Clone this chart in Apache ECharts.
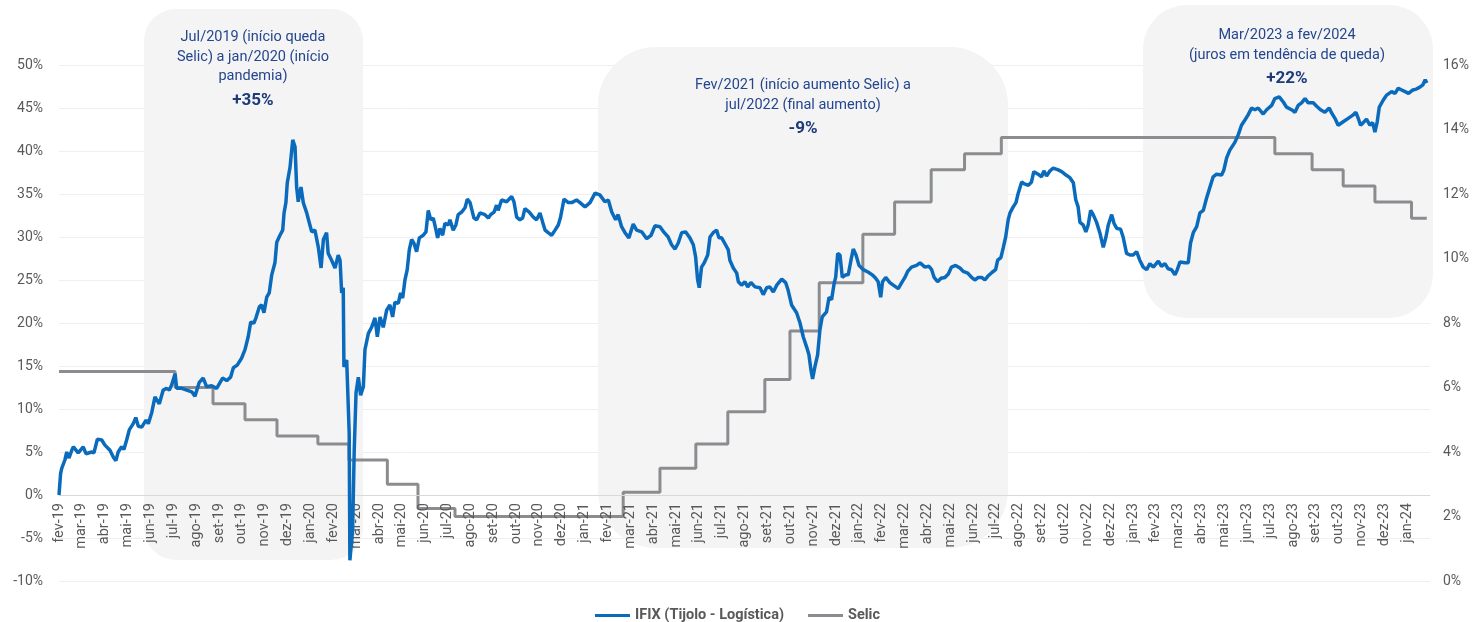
<!DOCTYPE html>
<html>
<head>
<meta charset="utf-8">
<title>IFIX Tijolo Logística x Selic</title>
<script src="https://cdn.jsdelivr.net/npm/echarts@6/dist/echarts.min.js"></script>
<style>
  html, body { margin: 0; padding: 0; background: #fff; }
  #chart { width: 1475px; height: 622px; }
</style>
</head>
<body>
<div id="chart"></div>
<script>
// rótulos do eixo x (um por mês, fev-19 = 0)
const monthLabels = [
  'fev-19','mar-19','abr-19','mai-19','jun-19','jul-19','ago-19','set-19','out-19','nov-19','dez-19',
  'jan-20','fev-20','mar-20','abr-20','mai-20','jun-20','jul-20','ago-20','set-20','out-20','nov-20','dez-20',
  'jan-21','fev-21','mar-21','abr-21','mai-21','jun-21','jul-21','ago-21','set-21','out-21','nov-21','dez-21',
  'jan-22','fev-22','mar-22','abr-22','mai-22','jun-22','jul-22','ago-22','set-22','out-22','nov-22','dez-22',
  'jan-23','fev-23','mar-23','abr-23','mai-23','jun-23','jul-23','ago-23','set-23','out-23','nov-23','dez-23',
  'jan-24'
];

// IFIX (Tijolo - Logística): posição em meses desde fev-19 e retorno acumulado (%)
const ifixMonth = [
  0,0.07,0.12,0.26,0.34,0.44,0.56,0.63,0.84,1.06,1.18,1.43,1.53,1.68,1.87,2.01,2.23,2.38,2.49,2.59,
  2.74,2.84,2.96,3.08,3.25,3.36,3.47,3.62,3.81,3.91,4.06,4.2,4.39,4.56,4.71,4.83,4.93,5.08,5.15,5.37,
  5.59,5.81,5.95,6.14,6.31,6.46,6.68,6.9,7.16,7.34,7.51,7.63,7.8,7.99,8.14,8.28,8.39,8.53,8.62,8.77,
  8.87,8.97,9.09,9.2,9.31,9.45,9.53,9.67,9.79,9.85,9.93,9.99,10.11,10.23,10.33,10.4,10.47,10.59,10.69,10.84,
  10.98,11.06,11.2,11.35,11.47,11.57,11.71,11.78,11.93,12.08,12.22,12.3,12.37,12.44,12.47,12.59,12.7,12.73,12.85,12.92,
  13.0,13.1,13.2,13.32,13.39,13.54,13.68,13.83,13.93,14.05,14.19,14.34,14.48,14.6,14.7,14.85,14.95,15.04,15.14,15.24,
  15.33,15.43,15.53,15.65,15.77,15.94,16.06,16.16,16.27,16.38,16.5,16.57,16.67,16.79,16.89,17.04,17.11,17.25,17.37,17.47,
  17.62,17.77,17.87,17.99,18.16,18.28,18.42,18.64,18.79,18.89,19.04,19.15,19.22,19.37,19.59,19.81,19.91,20.03,20.17,20.29,
  20.39,20.58,20.76,20.9,21.05,21.17,21.27,21.41,21.56,21.71,21.85,21.95,22.1,22.29,22.44,22.65,22.8,23.02,23.24,23.46,
  23.67,23.89,24.04,24.19,24.36,24.47,24.62,24.77,24.94,25.13,25.28,25.5,25.72,25.91,26.08,26.3,26.49,26.66,26.81,26.96,
  27.1,27.25,27.42,27.61,27.76,27.86,27.95,28.02,28.12,28.24,28.39,28.49,28.63,28.78,28.88,29.0,29.17,29.29,29.36,29.51,
  29.66,29.73,29.87,30.02,30.14,30.28,30.46,30.68,30.82,30.97,31.11,31.26,31.41,31.63,31.8,31.91,32.06,32.28,32.43,32.57,
  32.72,32.82,32.91,32.98,33.08,33.2,33.3,33.4,33.59,33.7,33.81,33.93,33.99,34.08,34.18,34.28,34.43,34.54,34.66,34.76,
  34.88,35.01,35.2,35.42,35.59,35.74,35.85,35.96,36.04,36.18,36.36,36.51,36.73,36.88,37.02,37.14,37.31,37.53,37.68,37.9,
  38.07,38.19,38.3,38.45,38.6,38.77,38.92,39.06,39.24,39.43,39.57,39.77,39.94,40.08,40.23,40.38,40.52,40.67,40.84,40.99,
  41.08,41.22,41.32,41.43,41.54,41.62,41.76,41.88,41.98,42.13,42.23,42.42,42.56,42.66,42.85,43.0,43.1,43.22,43.37,43.51,
  43.73,43.88,44.02,44.24,44.39,44.5,44.6,44.68,44.82,44.94,45.04,45.15,45.26,45.41,45.55,45.7,45.82,45.92,46.07,46.17,
  46.29,46.46,46.57,46.72,46.87,47.01,47.16,47.3,47.45,47.6,47.74,47.89,48.11,48.25,48.4,48.54,48.69,48.84,48.94,49.06,
  49.27,49.42,49.52,49.64,49.79,49.93,50.08,50.22,50.37,50.51,50.66,50.88,50.98,51.1,51.24,51.46,51.61,51.75,51.9,52.04,
  52.19,52.34,52.48,52.7,52.85,53.07,53.21,53.4,53.58,53.72,53.94,54.09,54.23,54.38,54.53,54.67,54.89,55.04,55.21,55.4,
  55.59,55.7,55.84,55.98,56.2,56.42,56.64,56.76,56.86,56.96,57.08,57.22,57.37,57.49,57.59,57.69,57.78,57.95,58.1,58.32,
  58.47,58.61,58.76,58.91,59.06,59.25,59.4,59.54,59.69,59.79,59.86
];
const ifixPct = [
  0,2.5,3.1,4.1,5.0,4.3,5.2,5.6,4.9,5.6,4.8,5.0,4.9,6.5,6.4,5.8,5.2,4.4,4.0,5.0,
  5.6,5.3,6.4,7.6,8.3,9.0,8.0,7.9,8.7,8.3,9.6,11.4,10.6,12.2,12.4,12.2,12.8,14.1,12.4,12.4,
  12.2,12.0,11.5,13.1,13.6,12.6,12.7,12.4,13.6,13.3,13.7,14.8,15.1,15.9,16.9,18.4,20.1,20.0,20.6,21.9,
  22.1,21.2,23.0,23.5,25.6,27.0,29.4,30.2,30.8,32.8,34.0,36.3,38.1,41.3,40.5,35.8,34.1,35.8,34.0,32.8,
  31.4,30.6,30.8,28.8,26.4,29.7,30.5,28.1,27.3,26.4,27.9,27.3,23.5,24.1,14.9,15.7,7.2,-7.6,-4.1,5.2,
  11.9,13.7,11.6,12.6,16.9,18.8,19.5,20.6,18.4,20.7,19.5,21.5,22.1,20.7,22.4,22.3,23.5,22.9,25.0,26.2,
  28.5,29.7,29.3,28.3,29.9,30.2,30.6,33.1,32.0,32.2,30.8,29.9,31.0,30.2,31.6,31.4,32.0,30.8,31.4,32.6,
  32.9,33.4,34.4,34.0,32.2,32.0,32.8,32.6,32.2,32.6,32.9,33.7,33.1,34.3,34.1,34.7,34.1,32.3,32.0,32.2,
  33.3,32.9,32.3,32.0,32.8,31.7,30.8,30.5,30.2,30.8,31.4,32.3,34.4,34.0,34.0,34.3,34.0,33.5,34.0,35.1,
  34.9,34.1,34.3,32.9,32.0,32.6,31.2,30.5,29.9,31.5,30.8,30.6,29.8,30.2,31.3,31.2,30.5,30.0,29.1,28.6,
  29.3,30.5,30.6,29.9,29.1,27.7,25.0,24.1,26.5,27.0,27.9,30.0,30.5,30.8,29.9,29.9,29.1,28.5,27.3,26.4,
  25.8,24.8,24.4,24.8,24.2,24.7,24.2,24.1,23.3,24.1,24.2,23.6,24.4,25.1,24.7,23.8,22.1,21.2,20.0,18.4,
  17.2,16.3,14.5,13.5,14.9,16.3,19.2,20.7,21.3,23.0,22.7,24.7,25.3,28.1,27.9,25.3,25.6,25.6,27.3,28.6,
  27.9,26.7,26.2,25.9,25.6,25.2,24.8,23.0,24.8,25.3,24.7,24.4,24.0,24.7,25.3,26.0,26.5,26.7,27.0,26.5,
  26.6,26.2,25.3,24.8,25.2,25.3,25.7,26.5,26.7,26.4,26.0,25.8,25.3,25.0,25.3,25.3,25.0,25.5,25.9,26.2,
  27.3,27.6,28.7,30.0,32.0,32.8,33.5,34.0,35.1,36.4,36.2,36.0,36.4,37.6,37.3,37.0,37.7,37.1,37.7,38.0,
  37.8,37.6,37.3,36.9,36.3,34.3,33.5,31.7,31.4,30.6,31.4,33.1,32.6,31.7,30.5,28.8,30.0,31.4,32.6,31.6,
  31.0,30.9,30.0,28.1,27.9,27.9,28.3,27.3,26.5,26.2,26.9,26.5,27.2,26.6,26.9,26.3,26.2,25.6,26.2,27.1,
  27.0,27.0,29.3,30.5,31.2,32.8,33.1,34.5,35.8,37.0,37.3,37.2,37.8,39.2,40.1,41.0,41.9,43.0,43.6,44.2,
  45.0,44.8,45.0,44.3,44.8,45.3,46.1,46.3,45.7,45.1,44.8,44.5,45.3,45.6,46.1,45.6,45.6,45.2,44.8,44.5,
  45.0,44.4,43.8,43.0,43.4,43.8,44.2,44.5,43.8,43.0,43.3,43.7,43.0,43.3,42.2,43.4,45.1,45.9,46.5,46.9,
  46.7,47.3,47.1,46.9,46.7,47.1,47.2,47.4,47.7,48.3,47.9
];

// Selic: mês da mudança e nova taxa (% a.a.)
const selicMonth = [0,5.08,6.74,8.14,9.54,11.33,12.69,14.37,15.71,17.33,24.69,26.3,27.87,29.27,30.89,31.99,
  33.27,35.18,36.57,38.17,39.63,41.24,53.21,54.84,56.2,57.59,59.19,59.86];
const selicRate = [6.5,6.0,5.5,5.0,4.5,4.25,3.75,3.0,2.25,2.0,2.75,3.5,4.25,5.25,6.25,7.75,
  9.25,10.75,11.75,12.75,13.25,13.75,13.25,12.75,12.25,11.75,11.25,11.25];

const ifixData = ifixMonth.map((m, i) => [m, ifixPct[i]]);
const selicData = selicMonth.map((m, i) => [m, selicRate[i]]);

const noteColor = '#24468f';
const boxFill = '#f4f4f4';

function note(x, y, lines, pct) {
  return [
    { type: 'text', z: 1, style: { text: lines, x: x, y: y, align: 'center', verticalAlign: 'top',
      fill: noteColor, fontSize: 14.5, lineHeight: 19.5, fontFamily: 'Roboto' } },
    { type: 'text', z: 1, style: { text: pct, x: x, y: y + lines.split('\n').length * 19.5 + 14, align: 'center', verticalAlign: 'middle',
      fill: '#1d3a7a', fontSize: 17, fontWeight: 'bold', fontFamily: 'Roboto' } }
  ];
}

const myChart = echarts.init(document.getElementById('chart'));
myChart.setOption({
  animation: false,
  textStyle: { fontFamily: 'Roboto' },
  grid: { left: 59, right: 45, top: 65, bottom: 41, outerBoundsMode: 'none' },
  graphic: [
    { type: 'rect', z: 1, shape: { x: 144, y: 9, width: 219, height: 551, r: 32 }, style: { fill: boxFill } },
    { type: 'rect', z: 1, shape: { x: 598, y: 47, width: 410, height: 501, r: 58 }, style: { fill: boxFill } },
    { type: 'rect', z: 1, shape: { x: 1143, y: 5, width: 290, height: 313, r: 44 }, style: { fill: boxFill } },
    ...note(253, 28, 'Jul/2019 (início queda\nSelic) a jan/2020 (início\npandemia)', '+35%'),
    ...note(803, 76, 'Fev/2021 (início aumento Selic) a\njul/2022 (final aumento)', '-9%'),
    ...note(1287, 26, 'Mar/2023 a fev/2024\n(juros em tendência de queda)', '+22%')
  ],
  legend: {
    top: 603,
    left: 'center',
    icon: 'rect',
    itemWidth: 35,
    itemHeight: 3,
    itemGap: 24,
    textStyle: { color: '#595959', fontSize: 14.5, fontWeight: 'bold', fontFamily: 'Roboto' },
    data: ['IFIX (Tijolo - Logística)', 'Selic']
  },
  xAxis: {
    type: 'value',
    min: 0,
    max: 60,
    interval: 1,
    z: 3,
    position: 'bottom',
    offset: -86, // eixo no 0% do eixo esquerdo
    axisLine: { onZero: false, lineStyle: { color: '#d9d9d9', width: 1 } },
    axisTick: { show: false },
    splitLine: { show: false },
    axisLabel: {
      rotate: 90,
      margin: 8,
      color: '#595959',
      fontSize: 14.5,
      formatter: v => monthLabels[v] || ''
    }
  },
  yAxis: [
    {
      type: 'value',
      min: -10,
      max: 50,
      interval: 5,
      z: 0,
      axisLine: { show: false },
      axisTick: { show: false },
      splitLine: { lineStyle: { color: '#efefef' } },
      axisLabel: { color: '#595959', fontSize: 14, margin: 16, formatter: '{value}%' }
    },
    {
      type: 'value',
      min: 0,
      max: 16,
      interval: 2,
      position: 'right',
      axisLine: { show: false },
      axisTick: { show: false },
      splitLine: { show: false },
      axisLabel: { color: '#595959', fontSize: 14, margin: 13, formatter: '{value}%' }
    }
  ],
  series: [
    {
      name: 'Selic',
      type: 'line',
      yAxisIndex: 1,
      step: 'end',
      symbol: 'none',
      z: 2,
      itemStyle: { color: '#8a8c8f' },
      lineStyle: { color: '#8a8c8f', width: 3 },
      data: selicData
    },
    {
      name: 'IFIX (Tijolo - Logística)',
      type: 'line',
      yAxisIndex: 0,
      symbol: 'none',
      z: 3,
      itemStyle: { color: '#0a6bbd' },
      lineStyle: { color: '#0a6bbd', width: 3.5 },
      data: ifixData
    }
  ]
});
</script>
</body>
</html>
